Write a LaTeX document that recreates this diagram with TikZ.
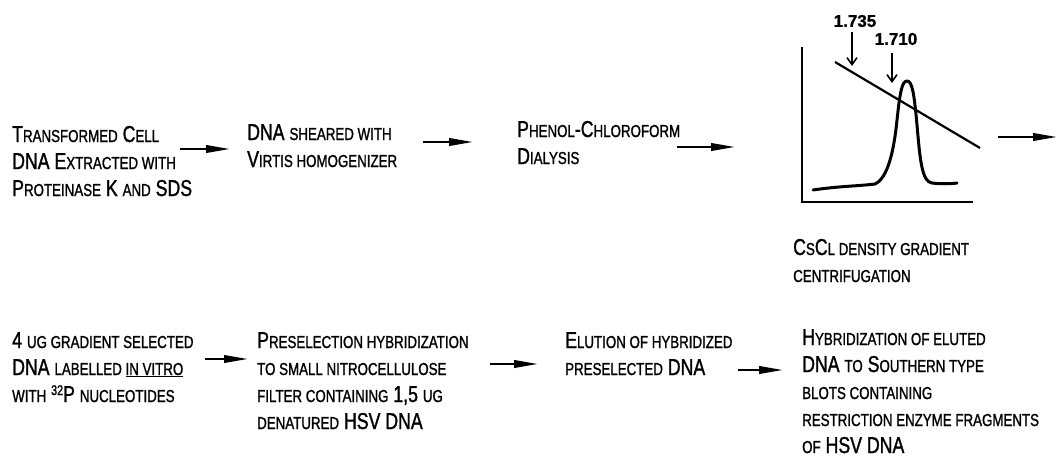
\documentclass[tikz,border=0pt]{standalone}
\usepackage{fontspec}
\setmainfont{Liberation Sans}[FakeStretch=0.77,FakeBold=1.2]
\newfontfamily\numfont{Liberation Sans}[FakeBold=1]
\usetikzlibrary{arrows.meta}
\newcommand\sm[1]{{\fontsize{17.3}{27}\selectfont #1}}
\newcommand\supr[1]{\raisebox{7pt}{\fontsize{14}{14}\selectfont #1}}
\tikzset{
  txt/.style={anchor=base west, align=left, inner sep=0pt, font=\fontsize{23}{27}\selectfont},
  flow/.style={line width=2.2pt, -{Triangle[length=24pt,width=7.5pt]}},
  pin/.style={line width=1.6pt, -{Straight Barb[length=7pt,width=10pt,line width=1.6pt]}},
  numlab/.style={inner sep=0pt, font=\numfont\bfseries\fontsize{17}{17}\selectfont}
}
\begin{document}
\begin{tikzpicture}[x=1pt,y=-1pt]
\fill[white] (0,0) rectangle (1062,458);
\useasboundingbox (0,0) rectangle (1062,458);

% row 1 texts (anchor = baseline of the last line)
\node[txt] (t1) at (12,196) {T\sm{RANSFORMED} C\sm{ELL}\\DNA E\sm{XTRACTED WITH}\\P\sm{ROTEINASE} K \sm{AND} SDS};
\node[txt] (t2) at (247,167) {DNA \sm{SHEARED WITH}\\V\sm{IRTIS HOMOGENIZER}};
\node[txt] (t3) at (517,164) {P\sm{HENOL}-C\sm{HLOROFORM}\\D\sm{IALYSIS}};
\node[txt] (tc) at (793,282) {C\sm{S}C\sm{L DENSITY GRADIENT}\\\sm{CENTRIFUGATION}};

% row 2 texts
\node[txt] (t4) at (12,402) {4 \sm{UG GRADIENT SELECTED}\\DNA \sm{LABELLED \underline{IN VITRO}}\\\sm{WITH} \supr{32}P \sm{NUCLEOTIDES}};
\node[txt] (t5) at (257,429) {P\sm{RESELECTION HYBRIDIZATION}\\\sm{TO SMALL NITROCELLULOSE}\\\sm{FILTER CONTAINING} 1,5 \sm{UG}\\\sm{DENATURED} HSV DNA};
\node[txt] (t6) at (565,375) {E\sm{LUTION OF HYBRIDIZED}\\\sm{PRESELECTED} DNA};
\node[txt] (t7) at (802,453) {H\sm{YBRIDIZATION OF ELUTED}\\DNA \sm{TO} S\sm{OUTHERN TYPE}\\\sm{BLOTS CONTAINING}\\\sm{RESTRICTION ENZYME FRAGMENTS}\\\sm{OF} HSV DNA};

% flow arrows
\coordinate (a1s) at (180,149); \coordinate (a1e) at (230,149);
\coordinate (a2s) at (423,142); \coordinate (a2e) at (473,142);
\coordinate (a3s) at (677,147); \coordinate (a3e) at (735,147);
\coordinate (a4s) at (998,137); \coordinate (a4e) at (1057,137);
\coordinate (a5s) at (205,359); \coordinate (a5e) at (248,359);
\coordinate (a6s) at (490,364); \coordinate (a6e) at (538,364);
\coordinate (a7s) at (738,370); \coordinate (a7e) at (783,370);
\foreach \i in {1,...,7} \draw[flow] (a\i s) -- (a\i e);

% graph
\draw[line width=2pt] (802,47) -- (802,202) -- (973,202);
\draw[line width=2.2pt] (835,62) -- (980,148);
\node[numlab] (l1) at (855,21) {1.735};
\node[numlab] (l2) at (896,39) {1.710};
\coordinate (p1s) at (852,32); \coordinate (p1e) at (852,66);
\coordinate (p2s) at (892,53); \coordinate (p2e) at (892,83);
\draw[pin] (p1s) -- (p1e);
\draw[pin] (p2s) -- (p2e);
\draw[line width=3pt, line cap=round, line join=round]
  (813,190) .. controls (840,186) and (860,186) .. (875,184)
  .. controls (888,178) and (894,150) .. (897,120)
  .. controls (900,92) and (902,81) .. (907,81)
  .. controls (912,81) and (914,92) .. (917,125)
  .. controls (920,160) and (922,182) .. (932,183)
  .. controls (940,184) and (950,184) .. (957,183);
\end{tikzpicture}
\end{document}
